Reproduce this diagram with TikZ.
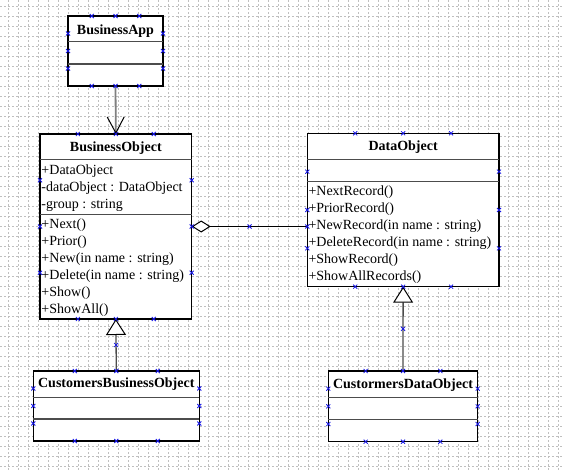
\documentclass[tikz,border=0pt]{standalone}
\usepackage{fontspec}
\setmainfont{Liberation Serif}
\usetikzlibrary{calc,arrows.meta}
\definecolor{hblue}{RGB}{20,20,230}
\tikzset{
  gridline/.style={draw=gray!50, line width=0.6pt, dash pattern=on 2pt off 2pt},
  classbox/.style={draw=black, line width=1.1pt, fill=white, inner sep=0pt, outer sep=0pt},
  sepline/.style={draw=black!70, line width=1.5pt},
  ctitle/.style={font=\bfseries\fontsize{14}{17}\selectfont, inner sep=0pt, anchor=base},
  member/.style={font=\fontsize{14}{17}\selectfont, inner sep=0pt, anchor=base west},
  hmark/.style={draw=hblue, line width=0.8pt},
  assocline/.style={draw=gray, line width=1.8pt, -{Straight Barb[length=16pt,width=17pt,line width=1pt,black]}},
  genline/.style={draw=black!70, line width=1.3pt, -{Triangle[open,length=16pt,width=20pt,line width=1pt,black,fill=white]}},
  aggline/.style={draw=black, line width=1.2pt, {Diamond[open,length=19pt,width=12pt,line width=1pt,black,fill=white]}-}
}
\newcommand\hx[1]{\draw[hmark] #1 ++(-2,-2) -- ++(4,4) ++(-4,0) -- ++(4,-4);}
\newcommand\umlhandles[1]{%
  \foreach \t in {0.25,0.5,0.75}{%
    \hx{($(#1.north west)!\t!(#1.north east)$)}
    \hx{($(#1.south west)!\t!(#1.south east)$)}
    \hx{($(#1.north west)!\t!(#1.south west)$)}
    \hx{($(#1.north east)!\t!(#1.south east)$)}
  }}
\begin{document}
\begin{tikzpicture}[x=1pt,y=-1pt]
\useasboundingbox (0,0) rectangle (563,471);
\fill[white] (0,0) rectangle (563,471);
% grid
\foreach \i in {0,...,55} \draw[gridline] (8.3+10*\i,0) -- (8.3+10*\i,471);
\foreach \i in {0,...,46} \draw[gridline] (0,6+10*\i) -- (563,6+10*\i);

% BusinessApp
\node[classbox, minimum width=95pt, minimum height=70pt] (ba) at (115.5,51) {};
\draw[sepline] (ba.west |- 0,41.7) -- (ba.east |- 0,41.7);
\draw[sepline] (ba.west |- 0,64) -- (ba.east |- 0,64);
\node[ctitle] (batitle) at (115.5,34.5) {BusinessApp};

% BusinessObject
\node[classbox, minimum width=151.7pt, minimum height=185pt] (bo) at (115.85,226.5) {};
\draw[sepline] (bo.west |- 0,159.3) -- (bo.east |- 0,159.3);
\draw[sepline] (bo.west |- 0,214.3) -- (bo.east |- 0,214.3);
\node[ctitle] (botitle) at (115.85,151.2) {BusinessObject};
\node[member] (boa1) at (41.3,174) {+DataObject};
\node[member] (boa2) at (41.3,191) {-dataObject : DataObject};
\node[member] (boa3) at (41.3,208) {-group : string};
\node[member] (bom1) at (41.3,228) {+Next()};
\node[member] (bom2) at (41.3,245) {+Prior()};
\node[member] (bom3) at (41.3,262) {+New(in name : string)};
\node[member] (bom4) at (41.3,279) {+Delete(in name : string)};
\node[member] (bom5) at (41.3,296) {+Show()};
\node[member] (bom6) at (41.3,313) {+ShowAll()};

% DataObject
\node[classbox, minimum width=191.7pt, minimum height=153.4pt] (do) at (403.15,210) {};
\draw[sepline] (do.west |- 0,159.3) -- (do.east |- 0,159.3);
\draw[sepline] (do.west |- 0,181.7) -- (do.east |- 0,181.7);
\node[ctitle] (dotitle) at (403.15,150.5) {DataObject};
\node[member] (dom1) at (308.3,195.5) {+NextRecord()};
\node[member] (dom2) at (308.3,212.5) {+PriorRecord()};
\node[member] (dom3) at (308.3,229.5) {+NewRecord(in name : string)};
\node[member] (dom4) at (308.3,246.5) {+DeleteRecord(in name : string)};
\node[member] (dom5) at (308.3,263.5) {+ShowRecord()};
\node[member] (dom6) at (308.3,280.5) {+ShowAllRecords()};

% CustomersBusinessObject
\node[classbox, minimum width=166pt, minimum height=70pt] (cbo) at (116.3,406) {};
\draw[sepline] (cbo.west |- 0,397.3) -- (cbo.east |- 0,397.3);
\draw[sepline] (cbo.west |- 0,419) -- (cbo.east |- 0,419);
\node[ctitle] (cbotitle) at (116.3,387.8) {CustomersBusinessObject};

% CustormersDataObject
\node[classbox, minimum width=149.4pt, minimum height=70.7pt] (cdo) at (403,406.35) {};
\draw[sepline] (cdo.west |- 0,397.3) -- (cdo.east |- 0,397.3);
\draw[sepline] (cdo.west |- 0,419.3) -- (cdo.east |- 0,419.3);
\node[ctitle] (cdotitle) at (403,388.8) {CustormersDataObject};

% connectors
\draw[assocline] (ba.south) -- (bo.north);
\draw[genline] (cbo.north) -- (bo.south);
\draw[genline] (cdo.north) -- (do.south);
\draw[aggline] (bo.east) -- (do.west |- bo.east);

% selection handles
\umlhandles{ba}
\umlhandles{bo}
\umlhandles{do}
\umlhandles{cbo}
\umlhandles{cdo}
\hx{(do.west |- bo.east)}
\hx{($(bo.east)!0.5!(do.west |- bo.east)$)}
\hx{($(cbo.north)!0.5!(bo.south)$)}
\hx{($(cdo.north)!0.5!(do.south)$)}
\end{tikzpicture}
\end{document}
